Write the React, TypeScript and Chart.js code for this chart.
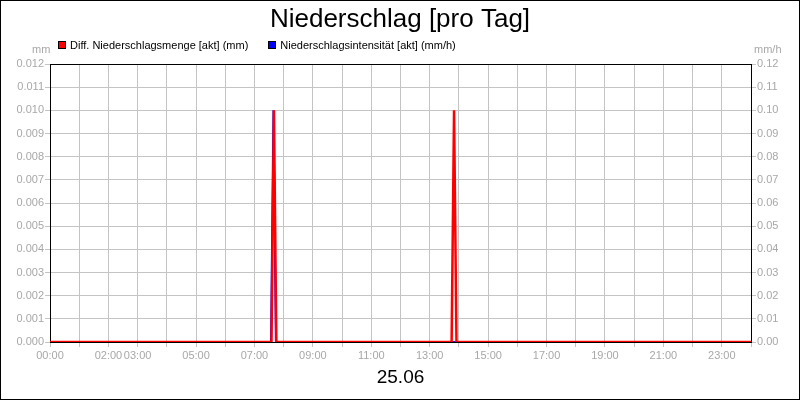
import { useEffect, useRef } from "react";
import { Chart, registerables } from "chart.js";

Chart.register(...registerables);

// Diff. Niederschlagsmenge (mm), left axis
const amountTimes = ["00:00", "07:35", "07:40", "07:45", "13:45", "13:50", "13:55", "24:00"];
const amountValues = [0, 0, 0.01, 0, 0, 0.01, 0, 0];

// Niederschlagsintensität (mm/h), right axis
const intensityTimes = ["00:00", "07:34", "07:39", "07:44", "24:00"];
const intensityValues = [0, 0, 0.1, 0, 0];

const labeledHours = [0, 2, 3, 5, 7, 9, 11, 13, 15, 17, 19, 21, 23];
const dayLabel = "25.06";

const FONT = "Arial, 'Liberation Sans', sans-serif";
const TICK_COLOR = "#a8a8a8";
const GRID_COLOR = "#c4c4c4";

const toHours = (t: string) => {
  const [h, m] = t.split(":").map(Number);
  return h + m / 60;
};

const pad = (n: number) => String(n).padStart(2, "0");

const areaBorder = {
  id: "areaBorder",
  beforeDatasetsDraw(chart: Chart) {
    const { ctx, chartArea } = chart;
    ctx.save();
    ctx.strokeStyle = "#000";
    ctx.lineWidth = 1;
    ctx.strokeRect(
      Math.round(chartArea.left) + 0.5,
      Math.round(chartArea.top) + 0.5,
      Math.round(chartArea.right - chartArea.left),
      Math.round(chartArea.bottom - chartArea.top)
    );
    ctx.restore();
  },
};

const App = () => {
  const canvasRef = useRef<HTMLCanvasElement>(null);

  useEffect(() => {
    document.body.style.margin = "0";
    if (!canvasRef.current) return;

    const chart = new Chart(canvasRef.current, {
      type: "line",
      data: {
        datasets: [
          {
            label: "Diff. Niederschlagsmenge [akt] (mm)",
            data: amountTimes.map((t, i) => ({ x: toHours(t), y: amountValues[i] })),
            borderColor: "#ff0000",
            backgroundColor: "#ff0000",
            borderWidth: 2.5,
            pointRadius: 0,
            tension: 0,
            yAxisID: "y",
          },
          {
            label: "Niederschlagsintensität [akt] (mm/h)",
            data: intensityTimes.map((t, i) => ({ x: toHours(t), y: intensityValues[i] })),
            borderColor: "#0000ff",
            backgroundColor: "#0000ff",
            borderWidth: 2,
            pointRadius: 0,
            tension: 0,
            yAxisID: "y1",
          },
        ],
      },
      options: {
        responsive: true,
        maintainAspectRatio: false,
        animation: false,
        layout: { padding: 0 },
        plugins: {
          legend: { display: false },
          tooltip: { enabled: false },
          title: {
            display: true,
            text: "Niederschlag [pro Tag]",
            color: "#000",
            font: { family: FONT, size: 26, weight: "normal", lineHeight: 1.2 },
            padding: { top: 3, bottom: 28.8 },
          },
        },
        scales: {
          x: {
            type: "linear",
            min: 0,
            max: 24,
            afterFit: (s) => {
              s.height = 57;
            },
            afterBuildTicks: (s) => {
              s.ticks = Array.from({ length: 25 }, (_, h) => ({ value: h }));
            },
            ticks: {
              autoSkip: false,
              maxRotation: 0,
              padding: 2,
              color: TICK_COLOR,
              font: { family: FONT, size: 11 },
              callback: (v) => (labeledHours.includes(Number(v)) ? `${pad(Number(v))}:00` : ""),
            },
            grid: { color: GRID_COLOR, tickLength: 5 },
            border: { display: false },
            title: {
              display: true,
              text: dayLabel,
              color: "#000",
              font: { family: FONT, size: 19 },
              padding: { top: 0, bottom: 10 },
            },
          },
          y: {
            position: "left",
            min: 0,
            max: 0.012,
            afterFit: (s) => {
              s.width = 49;
            },
            ticks: {
              stepSize: 0.001,
              padding: 1,
              color: TICK_COLOR,
              font: { family: FONT, size: 11 },
              callback: (v) => Number(v).toFixed(3),
            },
            grid: { color: GRID_COLOR, tickLength: 5 },
            border: { display: false },
          },
          y1: {
            position: "right",
            min: 0,
            max: 0.12,
            afterFit: (s) => {
              s.width = 48;
            },
            ticks: {
              stepSize: 0.01,
              padding: 1,
              color: TICK_COLOR,
              font: { family: FONT, size: 11 },
              callback: (v) => Number(v).toFixed(2),
            },
            grid: { drawOnChartArea: false, color: GRID_COLOR, tickLength: 5 },
            border: { display: false },
          },
        },
      },
      plugins: [areaBorder],
    });

    return () => chart.destroy();
  }, []);

  const unitStyle: React.CSSProperties = {
    position: "absolute",
    top: 42,
    fontSize: 11,
    color: TICK_COLOR,
    fontFamily: FONT,
    lineHeight: "12px",
  };

  return (
    <div
      style={{
        position: "absolute",
        left: 0,
        top: 0,
        width: 800,
        height: 400,
        boxSizing: "border-box",
        border: "1px solid #000",
        background: "#fff",
        fontFamily: FONT,
      }}
    >
      <div style={{ position: "relative", width: 798, height: 398 }}>
        <canvas ref={canvasRef}></canvas>
      </div>
      <span style={{ ...unitStyle, left: 31 }}>mm</span>
      <span style={{ ...unitStyle, left: 753 }}>mm/h</span>
      <div
        style={{
          position: "absolute",
          top: 38,
          left: 57,
          display: "flex",
          fontSize: 11,
          lineHeight: "12px",
          color: "#000",
        }}
      >
        {[
          { label: "Diff. Niederschlagsmenge [akt] (mm)", color: "#ff0000" },
          { label: "Niederschlagsintensität [akt] (mm/h)", color: "#0000ff" },
        ].map((item, i) => (
          <div key={i} style={{ display: "flex", alignItems: "center", marginRight: 20 }}>
            <span
              style={{
                width: 6,
                height: 6,
                border: "1px solid #000",
                background: item.color,
                marginRight: 4,
              }}
            ></span>
            <span>{item.label}</span>
          </div>
        ))}
      </div>
    </div>
  );
};

export default App;
